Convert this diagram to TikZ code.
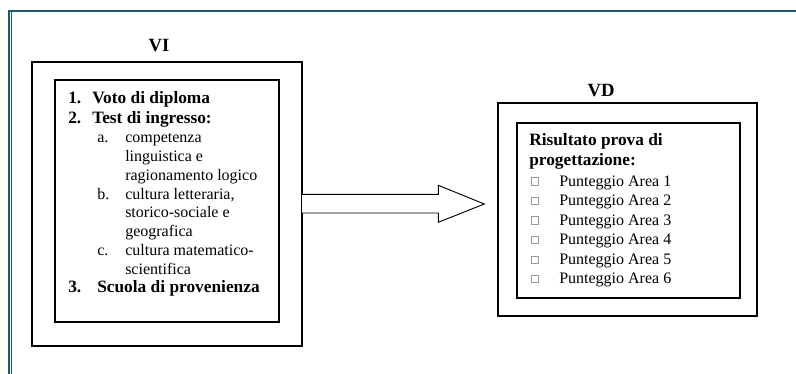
\documentclass[tikz,border=0pt]{standalone}
\usepackage{fontspec}
\setmainfont{Liberation Serif}
\definecolor{frame}{HTML}{1F5A6A}
\begin{document}
\begin{tikzpicture}[x=0.75pt,y=-0.75pt,
  box/.style={draw=black,line width=0.9pt},
  bitem/.style={anchor=base west,inner sep=0pt,font=\fontsize{13}{15}\selectfont\bfseries},
  nitem/.style={anchor=base west,inner sep=0pt,font=\fontsize{12}{14}\selectfont},
  title/.style={anchor=base,inner sep=0pt,font=\fontsize{14}{16}\selectfont\bfseries},
  chk/.style={draw=black!40,line width=0.4pt,minimum width=5pt,minimum height=5.6pt,inner sep=0pt,anchor=south west}]
\useasboundingbox (0,0) rectangle (796,374);
% page frame
\draw[frame,line width=1.6pt] (8.6,374) -- (8.6,11) -- (796,11);
\draw[frame,line width=0.7pt] (11,12) -- (11,374);
% VI
\node[title] (vi) at (159,51.5) {VI};
\draw[box] (32,62) rectangle (302,346);
\draw[box] (55,80) rectangle (279,322);
\coordinate (viE1) at (302,194.3);
\coordinate (viE2) at (302,213);
\node[bitem] (n1) at (68,104) {1.};
\node[bitem] (t1) at (92,104) {Voto di diploma};
\node[bitem] (n2) at (68,123.5) {2.};
\node[bitem] (t2) at (92,123.5) {Test di ingresso:};
\node[nitem] (la) at (97,143) {a.};
\node[nitem] (ta1) at (125,143) {competenza};
\node[nitem] (ta2) at (125,161.5) {linguistica e};
\node[nitem] (ta3) at (125,180.5) {ragionamento logico};
\node[nitem] (lb) at (97,199.5) {b.};
\node[nitem] (tb1) at (125,199.5) {cultura letteraria,};
\node[nitem] (tb2) at (125,218) {storico-sociale e};
\node[nitem] (tb3) at (125,236.5) {geografica};
\node[nitem] (lc) at (97,255.5) {c.};
\node[nitem] (tc1) at (125,255.5) {cultura matematico-};
\node[nitem] (tc2) at (125,274) {scientifica};
\node[bitem] (n3) at (68,292.5) {3.};
\node[bitem] (t3) at (97,292.5) {Scuola di provenienza};
% arrow
\draw[line width=0.7pt,fill=white] (viE1) -- (438.3,194.3) -- (438.3,185.3) -- (484.3,204) -- (438.3,222.3) -- (438.3,213) -- (viE2);
% VD
\node[title] (vd) at (601,96.5) {VD};
\draw[box] (498,103) rectangle (757,316);
\draw[box] (517,123) rectangle (740,298);
\node[bitem] (r1) at (529,146) {Risultato prova di};
\node[bitem] (r2) at (529,165.5) {progettazione:};
\foreach \i/\y in {1/186,2/205.5,3/225,4/244.5,5/264,6/283.5}{
  \node[chk] (c\i) at (531,\y-0.5) {};
  \node[nitem] (p\i) at (559,\y) {Punteggio Area \i};
}
\end{tikzpicture}
\end{document}
